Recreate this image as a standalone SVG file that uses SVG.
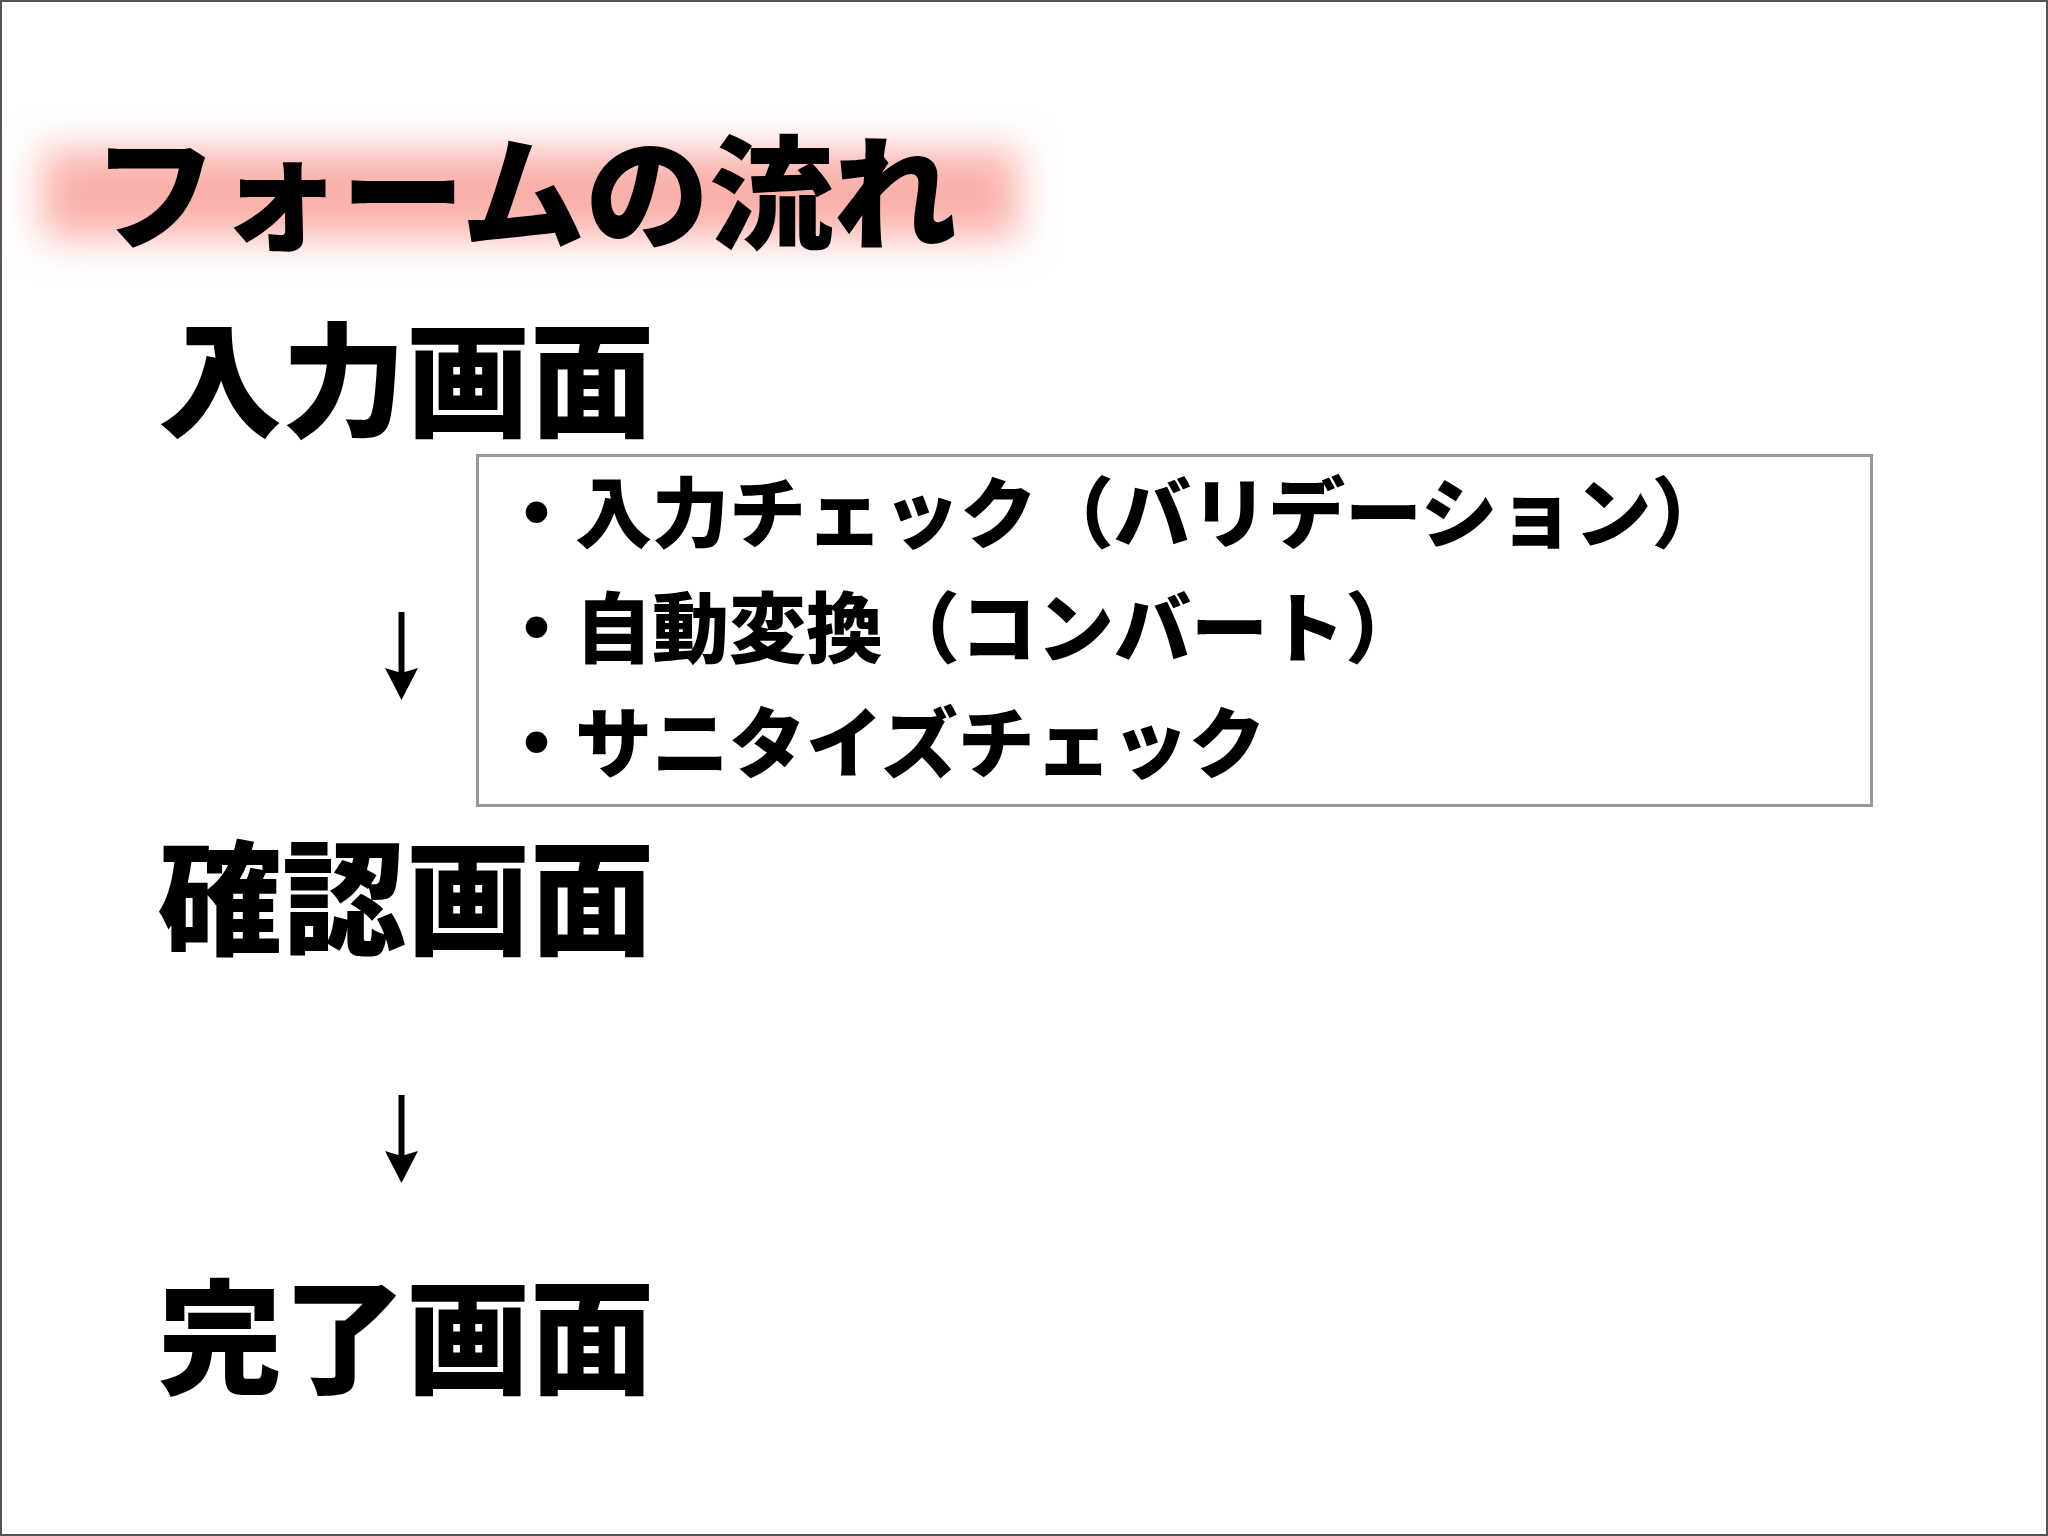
<svg xmlns="http://www.w3.org/2000/svg" width="2048" height="1536" viewBox="0 0 2048 1536">
  <style>
    .jp { font-family: "Noto Sans CJK JP", "Noto Sans CJK SC", sans-serif; font-weight: 900; fill: #000; }
    .title { font-size: 124px; }
    .head { font-size: 124px; }
    .item { font-size: 77px; }
    .conn { stroke: #000; stroke-width: 6; fill: none; }
  </style>
  <defs>
    <filter id="glow" x="-10%" y="-100%" width="120%" height="300%">
      <feGaussianBlur stdDeviation="19"/>
    </filter>
    <marker id="ah" markerUnits="userSpaceOnUse" markerWidth="40" markerHeight="40" viewBox="0 0 40 40" refX="7" refY="20" orient="auto">
      <path d="M34,20 L2,3.5 L7,20 L2,36.5 Z" fill="#000"/>
    </marker>
  </defs>
  <rect x="0" y="0" width="2048" height="1536" fill="#ffffff"/>
  <rect x="1" y="1" width="2046" height="1534" fill="none" stroke="#555" stroke-width="2"/>

  <g id="title">
    <rect x="42" y="150" width="976" height="88" fill="#fab0aa" filter="url(#glow)"/>
    <text class="jp title" x="93" y="240">フォームの流れ</text>
  </g>

  <g id="input-screen">
    <text class="jp head" x="158" y="427">入力画面</text>
  </g>

  <g id="input-details">
    <rect x="477.5" y="455.5" width="1394" height="350" fill="#fff" stroke="#999" stroke-width="3"/>
    <text class="jp item" x="498" y="542">・入力チェック（バリデーション）</text>
    <text class="jp item" x="498" y="657">・自動変換（コンバート）</text>
    <text class="jp item" x="498" y="772">・サニタイズチェック</text>
  </g>

  <g id="confirm-screen">
    <text class="jp head" x="158" y="945">確認画面</text>
  </g>

  <g id="complete-screen">
    <text class="jp head" x="158" y="1384">完了画面</text>
  </g>

  <g id="connectors">
    <line class="conn" x1="401.5" y1="612" x2="401.5" y2="673" marker-end="url(#ah)"/>
    <line class="conn" x1="401.5" y1="1095" x2="401.5" y2="1156" marker-end="url(#ah)"/>
  </g>
</svg>
